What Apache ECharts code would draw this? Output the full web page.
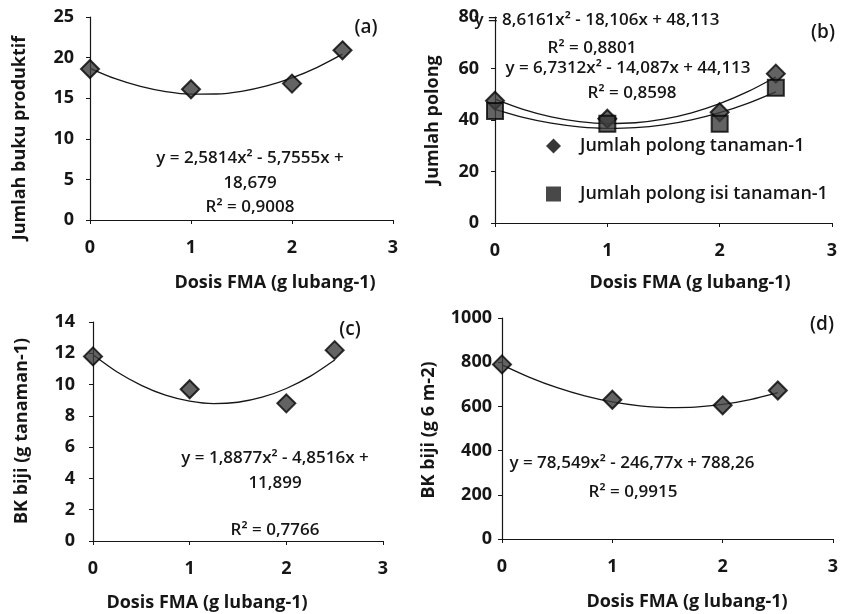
<!DOCTYPE html>
<html lang="id">
<head>
  <meta charset="UTF-8">
  <title>Dosis FMA</title>
  <script src="https://cdn.jsdelivr.net/npm/echarts@6/dist/echarts.min.js"></script>
  <style>
    html, body { margin: 0; padding: 0; background: #fff; }
    #chart { width: 846px; height: 614px; }
  </style>
</head>
<body>
  <div id="chart"></div>
  <script>
    // dosis FMA (g lubang-1)
    var dosis = [0, 1, 2, 2.5];
    var bukuProduktif = [18.6, 16.1, 16.8, 20.9];
    var polong = [47.5, 40.5, 43, 58];
    var polongIsi = [43.5, 38.5, 38.5, 52.5];
    var bkBijiTanaman = [11.8, 9.7, 8.8, 12.2];
    var bkBijiPetak = [790, 630, 605, 672];

    // garis trend polinomial (tiap 0,25)
    var trendX = [0, 0.25, 0.5, 0.75, 1, 1.25, 1.5, 1.75, 2, 2.25, 2.5];
    var trendBuku = [18.68, 17.40, 16.45, 15.81, 15.50, 15.52, 15.85, 16.51, 17.49, 18.80, 20.42];
    var trendPolong = [48.11, 44.13, 41.21, 39.38, 38.62, 38.94, 40.34, 42.81, 46.36, 50.99, 56.70];
    var trendPolongIsi = [44.11, 41.01, 38.75, 37.33, 36.76, 37.02, 38.13, 40.07, 42.86, 46.49, 50.96];
    var trendBkTanaman = [11.90, 10.80, 9.95, 9.32, 8.94, 8.78, 8.87, 9.19, 9.75, 10.54, 11.57];
    var trendBkPetak = [788, 731.5, 684.5, 647.4, 620, 602.5, 594.8, 597, 608.9, 630.7, 662.3];

    var xTicks = { min: 0, max: 3, interval: 1 };
    var yTicks = [
      { min: 0, max: 25, interval: 5 },
      { min: 0, max: 80, interval: 20 },
      { min: 0, max: 14, interval: 2 },
      { min: 0, max: 1000, interval: 200 }
    ];

    var FONT = '"Open Sans", Lato, sans-serif';
    var INK = '#161616';

    function pairs(xs, ys) {
      return xs.map(function (x, i) { return [x, ys[i]]; });
    }

    var grids = [
      { left: 90, top: 17, width: 303, height: 203 },
      { left: 495, top: 17, width: 337, height: 206 },
      { left: 93, top: 322, width: 290, height: 219 },
      { left: 502, top: 318, width: 331, height: 221 }
    ];
    var yMargins = [16, 16, 18, 10];

    var xAxes = grids.map(function (g, i) {
      return {
        type: 'value', gridIndex: i,
        min: xTicks.min, max: xTicks.max, interval: xTicks.interval,
        axisLine: { lineStyle: { color: INK, width: 1.2 } },
        axisTick: { show: true, length: 4, lineStyle: { color: INK } },
        splitLine: { show: false },
        axisLabel: { color: INK, fontSize: 18, fontWeight: 'bold', fontFamily: FONT, margin: 19 }
      };
    });
    var yAxes = grids.map(function (g, i) {
      return {
        type: 'value', gridIndex: i,
        min: yTicks[i].min, max: yTicks[i].max, interval: yTicks[i].interval,
        axisLine: { show: true, lineStyle: { color: INK, width: 1.2 } },
        axisTick: { show: true, length: 4, lineStyle: { color: INK } },
        splitLine: { show: false },
        axisLabel: {
          color: INK, fontSize: 18, fontWeight: 'bold', fontFamily: FONT, margin: yMargins[i],
          formatter: function (v) { return String(v); }
        }
      };
    });

    function dots(name, i, xs, ys, symbol, size) {
      return {
        name: name, type: 'scatter', xAxisIndex: i, yAxisIndex: i,
        symbol: symbol, symbolSize: size, z: 3,
        itemStyle: { color: '#3c3c3c', borderColor: '#050505', borderWidth: 2 },
        data: pairs(xs, ys)
      };
    }
    function trend(name, i, ys) {
      return {
        name: name, type: 'line', xAxisIndex: i, yAxisIndex: i,
        smooth: 0.3, showSymbol: false, symbol: 'none', z: 2,
        lineStyle: { color: INK, width: 1.3 },
        data: pairs(trendX, ys)
      };
    }

    function txt(x, y, s, opt) {
      opt = opt || {};
      return {
        type: 'text', x: x, y: y, rotation: opt.rot || 0, z: 10,
        style: {
          text: s, fill: INK, fontFamily: FONT,
          fontSize: opt.size || 17, fontWeight: opt.weight || 600,
          align: opt.align || 'center', verticalAlign: 'middle'
        }
      };
    }
    var B = { weight: 'bold', size: 18 };
    var V = { weight: 'bold', size: 18, rot: Math.PI / 2 };

    var chart = echarts.init(document.getElementById('chart'));
    chart.setOption({
      animation: false,
      backgroundColor: '#fff',
      grid: grids,
      xAxis: xAxes,
      yAxis: yAxes,
      legend: {
        data: [
          { name: 'Jumlah polong tanaman-1', icon: 'diamond', itemStyle: { color: '#050505', borderWidth: 0 } },
          { name: 'Jumlah polong isi tanaman-1', icon: 'rect', itemStyle: { color: '#1a1a1a', borderWidth: 0 } }
        ],
        orient: 'vertical', left: 541, top: 132, itemGap: 30,
        itemWidth: 15, itemHeight: 15,
        textStyle: { color: INK, fontSize: 18, fontWeight: 600, fontFamily: FONT, padding: [0, 0, 0, 14] }
      },
      series: [
        trend('trend a', 0, trendBuku),
        dots('Jumlah buku produktif', 0, dosis, bukuProduktif, 'diamond', 18),
        trend('trend b1', 1, trendPolong),
        trend('trend b2', 1, trendPolongIsi),
        dots('Jumlah polong tanaman-1', 1, dosis, polong, 'diamond', 18),
        dots('Jumlah polong isi tanaman-1', 1, dosis, polongIsi, 'rect', 16),
        trend('trend c', 2, trendBkTanaman),
        dots('BK biji tanaman', 2, dosis, bkBijiTanaman, 'diamond', 18),
        trend('trend d', 3, trendBkPetak),
        dots('BK biji petak', 3, dosis, bkBijiPetak, 'diamond', 18)
      ],
      graphic: [
        // judul sumbu
        txt(20, 138, 'Jumlah buku produktif', V),
        txt(433, 120, 'Jumlah polong', V),
        txt(22, 431, 'BK biji (g tanaman-1)', V),
        txt(429, 430, 'BK biji (g 6 m-2)', V),
        txt(275, 283, 'Dosis FMA (g lubang-1)', B),
        txt(690, 283, 'Dosis FMA (g lubang-1)', B),
        txt(207, 603, 'Dosis FMA (g lubang-1)', B),
        txt(687, 602, 'Dosis FMA (g lubang-1)', B),
        // label panel
        txt(366, 28, '(a)', { size: 19 }),
        txt(823, 33, '(b)', { size: 19 }),
        txt(350, 330, '(c)', { size: 19 }),
        txt(822, 325, '(d)', { size: 19 }),
        // persamaan
        txt(250, 158, 'y = 2,5814x² - 5,7555x +'),
        txt(250, 183, '18,679'),
        txt(250, 207, 'R² = 0,9008'),
        txt(597, 20, 'y = 8,6161x² - 18,106x + 48,113'),
        txt(592, 48, 'R² = 0,8801'),
        txt(628, 68, 'y = 6,7312x² - 14,087x + 44,113'),
        txt(632, 93, 'R² = 0,8598'),
        txt(275, 458, 'y = 1,8877x² - 4,8516x +'),
        txt(275, 483, '11,899'),
        txt(275, 530, 'R² = 0,7766'),
        txt(632, 463, 'y = 78,549x² - 246,77x + 788,26'),
        txt(633, 492, 'R² = 0,9915')
      ]
    });
  </script>
</body>
</html>
